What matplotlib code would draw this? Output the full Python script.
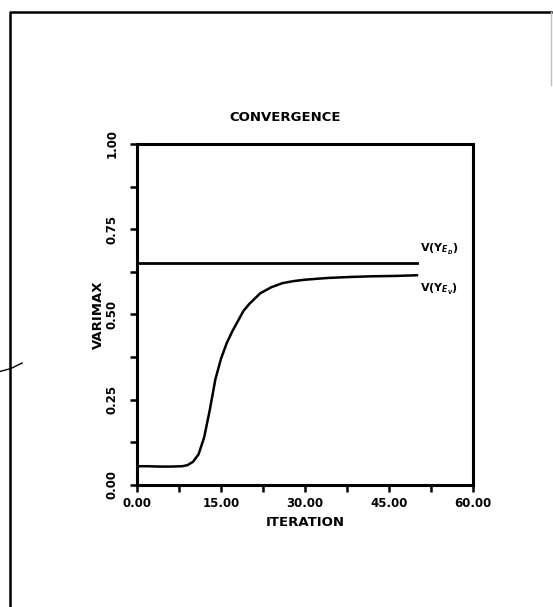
import matplotlib
matplotlib.use("Agg")
from matplotlib import pyplot as plt
from matplotlib.lines import Line2D

# data
iteration = [0, 2, 4, 6, 8, 9, 10, 11, 12, 12.5, 13, 14, 15, 16, 17, 18, 19, 20,
             22, 24, 26, 28, 30, 34, 38, 42, 46, 50]
varimax_v = [0.055, 0.055, 0.054, 0.054, 0.055, 0.058, 0.068, 0.09, 0.14, 0.18,
             0.22, 0.31, 0.37, 0.415, 0.45, 0.48, 0.51, 0.53, 0.562, 0.58, 0.592,
             0.598, 0.602, 0.607, 0.61, 0.612, 0.613, 0.615]
ref_x = [0, 50]
ref_b = [0.652, 0.652]

x_ticks = [0, 15, 30, 45, 60]
x_ticklabels = ["0.00", "15.00", "30.00", "45.00", "60.00"]
y_ticks = [0, 0.25, 0.5, 0.75, 1.0]
y_ticklabels = ["0.00", "0.25", "0.50", "0.75", "1.00"]

plt.rcParams["font.family"] = "DejaVu Sans"
plt.rcParams["font.weight"] = "bold"

fig = plt.figure(figsize=(5.53, 6.07), dpi=100)
ax = fig.add_axes([0.2477, 0.201, 0.6076, 0.5618])

ax.plot(ref_x, ref_b, color="black", lw=2.0)
ax.plot(iteration, varimax_v, color="black", lw=1.8)

ax.set_xlim(0, 60)
ax.set_ylim(0, 1)
ax.set_xticks(x_ticks)
ax.set_xticklabels(x_ticklabels, fontsize=8.5, fontweight="bold")
ax.set_xticks([7.5, 22.5, 37.5, 52.5], minor=True)
ax.set_yticks(y_ticks)
ax.set_yticklabels(y_ticklabels, fontsize=8.5, fontweight="bold",
                   rotation=90, va="center")
ax.set_yticks([0.125, 0.375, 0.625, 0.875], minor=True)
ax.tick_params(which="both", direction="out", length=5, width=1.8)
ax.tick_params(axis="x", pad=4)
ax.tick_params(axis="y", pad=8)
for s in ax.spines.values():
    s.set_linewidth(2.2)

ax.set_xlabel("ITERATION", fontsize=9.5, fontweight="bold", labelpad=4)
ax.set_ylabel("VARIMAX", fontsize=9.5, fontweight="bold", labelpad=1)

ax.text(50.6, 0.69, r"V(Y$_{E_D}$)", fontsize=8, fontweight="bold",
        va="center", ha="left")
ax.text(50.6, 0.572, r"V(Y$_{E_V}$)", fontsize=8, fontweight="bold",
        va="center", ha="left")

fig.text(0.515, 0.807, "CONVERGENCE", fontsize=9.5, fontweight="bold",
         ha="center", va="center")

# page frame from the scan
fig.add_artist(Line2D([0.018, 0.018, 0.997], [0.0, 0.98, 0.98],
                      transform=fig.transFigure, color="black", lw=1.8))
fig.add_artist(Line2D([0.997, 0.997], [0.98, 0.86],
                      transform=fig.transFigure, color="0.75", lw=1.0))
fig.add_artist(Line2D([0.0, 0.02, 0.04], [0.388, 0.393, 0.402],
                      transform=fig.transFigure, color="black", lw=1.0))

fig.savefig("out.png", dpi=100)
